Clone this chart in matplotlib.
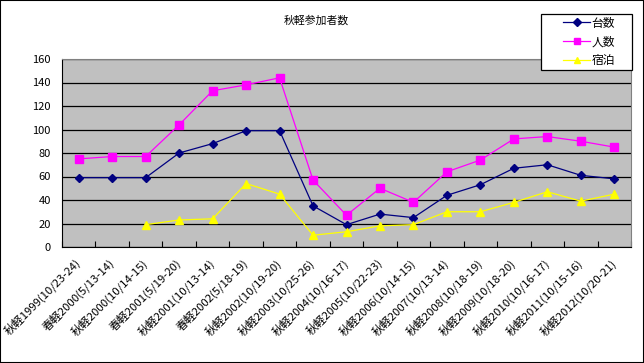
import matplotlib
matplotlib.use('Agg')
import matplotlib.pyplot as plt
import numpy as np
from matplotlib.patches import Rectangle

plt.rcParams['font.family'] = ['Noto Sans CJK JP', 'DejaVu Sans']

events = ['秋軽1999(10/23-24)', '春軽2000(5/13-14)', '秋軽2000(10/14-15)',
          '春軽2001(5/19-20)', '秋軽2001(10/13-14)', '春軽2002(5/18-19)',
          '秋軽2002(10/19-20)', '秋軽2003(10/25-26)', '秋軽2004(10/16-17)',
          '秋軽2005(10/22-23)', '秋軽2006(10/14-15)', '秋軽2007(10/13-14)',
          '秋軽2008(10/18-19)', '秋軽2009(10/18-20)', '秋軽2010(10/16-17)',
          '秋軽2011(10/15-16)', '秋軽2012(10/20-21)']
cars = [59, 59, 59, 80, 88, 99, 99, 35, 19, 28, 25, 44, 53, 67, 70, 61, 58]
people = [75, 77, 77, 104, 133, 138, 144, 57, 27, 50, 38, 64, 74, 92, 94, 90, 85]
stays = [np.nan, np.nan, 19, 23, 24, 54, 45, 10, 13, 18, 19, 30, 30, 38, 47, 39, 45]

fig = plt.figure(figsize=(6.44, 3.63), dpi=100)
ax = fig.add_axes([62 / 644, 1 - 247 / 363, (631 - 62) / 644, (247 - 59) / 363])
ax.set_facecolor('#C0C0C0')

x = np.arange(len(events))
ax.plot(x, cars, color='#000080', marker='D', markersize=4.3, lw=0.9, label='台数')
ax.plot(x, people, color='#FF00FF', marker='s', markersize=5.5, lw=0.9, label='人数')
ax.plot(x, stays, color='#FFFF00', marker='^', markersize=5.8, lw=0.9, label='宿泊')

ax.set_xlim(-0.5, len(events) - 0.5)
ax.set_ylim(0, 160)
ax.set_yticks(range(0, 161, 20))
ax.yaxis.grid(True, color='black', lw=0.9)
ax.set_axisbelow(True)
ax.tick_params(axis='y', length=0, pad=8, labelsize=8)

ax.set_xticks(np.arange(-0.5, len(events), 1))
ax.set_xticklabels([])
ax.set_xticks(x, minor=True)
ax.set_xticklabels(events, minor=True, rotation=45, ha='right', va='center',
                   rotation_mode='anchor', fontsize=8.2)
ax.tick_params(axis='x', which='major', length=4, direction='in', color='black')
ax.tick_params(axis='x', which='minor', length=0, pad=10)

for side in ['top', 'right']:
    ax.spines[side].set_color('#808080')
for side in ['left', 'bottom']:
    ax.spines[side].set_color('black')

fig.text(316 / 644, 1 - 20 / 363, '秋軽参加者数', ha='center', va='center', fontsize=7.8)

# legend box drawn separately so its size matches the original
fig.patches.append(Rectangle((541 / 644, 1 - 70 / 363), 91 / 644, 56 / 363,
                             transform=fig.transFigure, facecolor='white',
                             edgecolor='black', lw=0.9, zorder=4))
leg = fig.legend(loc='center', bbox_to_anchor=(589 / 644, 1 - 42 / 363),
                 frameon=False, fontsize=8.5, markerscale=0.85,
                 handlelength=2.3, handletextpad=0.1, borderpad=0,
                 labelspacing=0.5, borderaxespad=0)
leg.set_zorder(5)

fig.patches.append(Rectangle((0, 0), 1, 1, transform=fig.transFigure,
                             fill=False, edgecolor='black', lw=1.5))

fig.savefig('out.png', dpi=100)
